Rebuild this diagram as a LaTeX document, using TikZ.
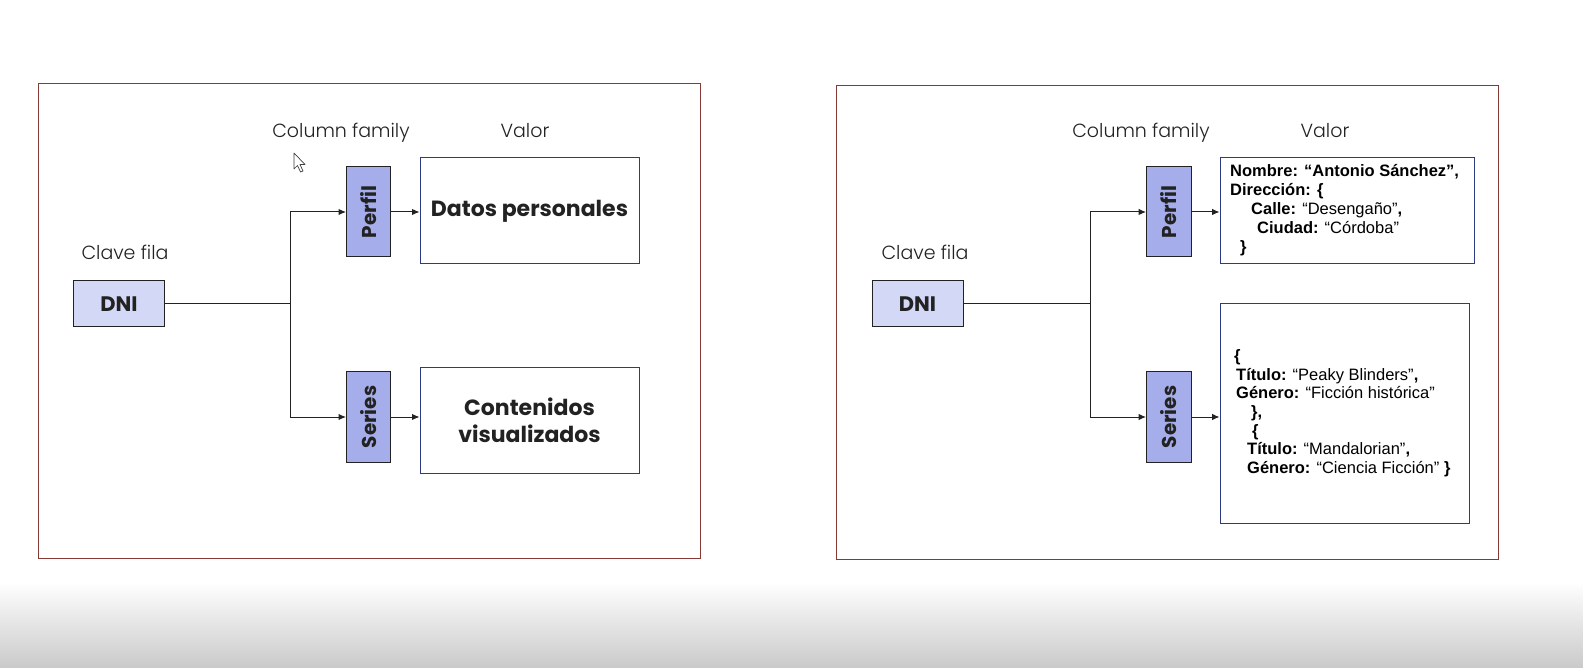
\documentclass[tikz,border=0pt]{standalone}
\usepackage{fontspec}
\setmainfont{Poppins}
\newfontfamily\lightf{Poppins}[UprightFont={* Light}]
\newfontfamily\arialf{Liberation Sans}
\usetikzlibrary{arrows.meta}
\definecolor{framered}{HTML}{853A36}
\definecolor{keyfill}{HTML}{D3D8F6}
\definecolor{cffill}{HTML}{A5AEEA}
\definecolor{navy}{HTML}{2F3B80}
\definecolor{ink}{HTML}{222222}
\tikzset{
  frame/.style={draw=framered, line width=1pt},
  lbl/.style={anchor=base, inner sep=0, text=ink, font=\lightf\fontsize{19}{23}\selectfont},
  keybox/.style={draw=ink, line width=1pt, fill=keyfill, minimum width=91pt, minimum height=46pt, inner sep=0,
    font=\fontsize{21}{25}\selectfont\bfseries, text=ink},
  cfbox/.style={draw=ink, line width=1pt, fill=cffill, minimum width=44pt, minimum height=90pt, inner sep=0},
  cftext/.style={rotate=90, inner sep=0, text=ink, font=\fontsize{20}{24}\selectfont\bfseries},
  valbox/.style={draw=navy, line width=1pt, fill=white, inner sep=0, align=center, text=ink,
    font=\fontsize{22}{27}\selectfont\bfseries},
  json/.style={anchor=base west, inner sep=0, text=black, font=\arialf\fontsize{16.5}{19}\selectfont},
  conn/.style={draw=ink, line width=1pt},
  arr/.style={conn, -{Latex[length=7.5pt,width=6.5pt]}},
}
\begin{document}
\begin{tikzpicture}[x=1pt,y=-1pt]
\useasboundingbox (0,0) rectangle (1583,668);
\fill[white] (0,0) rectangle (1583,668);
\shade[top color=white, bottom color=black!21] (0,582) rectangle (1583,668);

% ---------------- left panel ----------------
\draw[frame] (38,84) rectangle (700,558);
\node[lbl] (cf1) at (341,138) {Column family};
\node[lbl] (val1) at (525,138) {Valor};
\node[lbl] (clave1) at (125,260) {Clave fila};
\node[keybox] (dni1) at (119,304) {DNI};
\node[cfbox] (p1) at (368.5,212) {};
\node[cftext] (p1t) at (p1.center) {Perfil};
\node[cfbox] (s1) at (368.5,417) {};
\node[cftext] (s1t) at (s1.center) {Series};
\node[valbox, minimum width=219pt, minimum height=106pt] (v1a) at (529.5,211) {Datos personales};
\node[valbox, minimum width=219pt, minimum height=105pt] (v1b) at (529.5,420.5) {Contenidos\\visualizados};
\coordinate (j1) at (290,304);
\draw[conn] (dni1.east) -- (j1);
\draw[arr] (j1) |- (p1.west);
\draw[arr] (j1) |- (s1.west);
\draw[arr] (p1.east) -- (p1.east -| v1a.west);
\draw[arr] (s1.east) -- (s1.east -| v1b.west);

% mouse cursor
\draw[fill=white, draw=black!75, line width=0.7pt, line join=round]
  (294,153) -- (294,169) -- (297.5,165.5) -- (300.5,172) -- (303,171) -- (300,164.5) -- (305,164.5) -- cycle;

% ---------------- right panel ----------------
\draw[frame] (836,86) rectangle (1498,559);
\node[lbl] (cf2) at (1141,138) {Column family};
\node[lbl] (val2) at (1325,138) {Valor};
\node[lbl] (clave2) at (925,260) {Clave fila};
\node[keybox] (dni2) at (917.5,304) {DNI};
\node[cfbox, minimum width=45pt] (p2) at (1169,212) {};
\node[cftext] (p2t) at (p2.center) {Perfil};
\node[cfbox, minimum width=45pt] (s2) at (1169,417) {};
\node[cftext] (s2t) at (s2.center) {Series};
\node[valbox, minimum width=254pt, minimum height=106pt] (v2a) at (1347,210.5) {};
\node[valbox, minimum width=249pt, minimum height=219pt] (v2b) at (1344.5,413.5) {};
\coordinate (j2) at (1090,304);
\draw[conn] (dni2.east) -- (j2);
\draw[arr] (j2) |- (p2.west);
\draw[arr] (j2) |- (s2.west);
\draw[arr] (p2.east) -- (p2.east -| v2a.west);
\draw[arr] (s2.east) -- (s2.east -| v2b.west);

% JSON in first value box
\node[json] (a1) at (1230,177) {\bfseries Nombre: “Antonio Sánchez”,};
\node[json] (a2) at (1230,196) {\bfseries Dirección: \{};
\node[json] (a3) at (1251,215) {\textbf{Calle:} “Desengaño”\textbf{,}};
\node[json] (a4) at (1257,234) {\textbf{Ciudad:} “Córdoba”};
\node[json] (a5) at (1240,253) {\bfseries \}};

% JSON in second value box
\node[json] (b1) at (1234,362) {\bfseries \{};
\node[json] (b2) at (1236,380.5) {\textbf{Título:} “Peaky Blinders”\textbf{,}};
\node[json] (b3) at (1236,399) {\textbf{Género:} “Ficción histórica”};
\node[json] (b4) at (1251,417.5) {\bfseries \},};
\node[json] (b5) at (1252,436) {\bfseries \{};
\node[json] (b6) at (1247,454.5) {\textbf{Título:} “Mandalorian”\textbf{,}};
\node[json] (b7) at (1247,473) {\textbf{Género:} “Ciencia Ficción” \textbf{\}}};
\end{tikzpicture}
\end{document}
